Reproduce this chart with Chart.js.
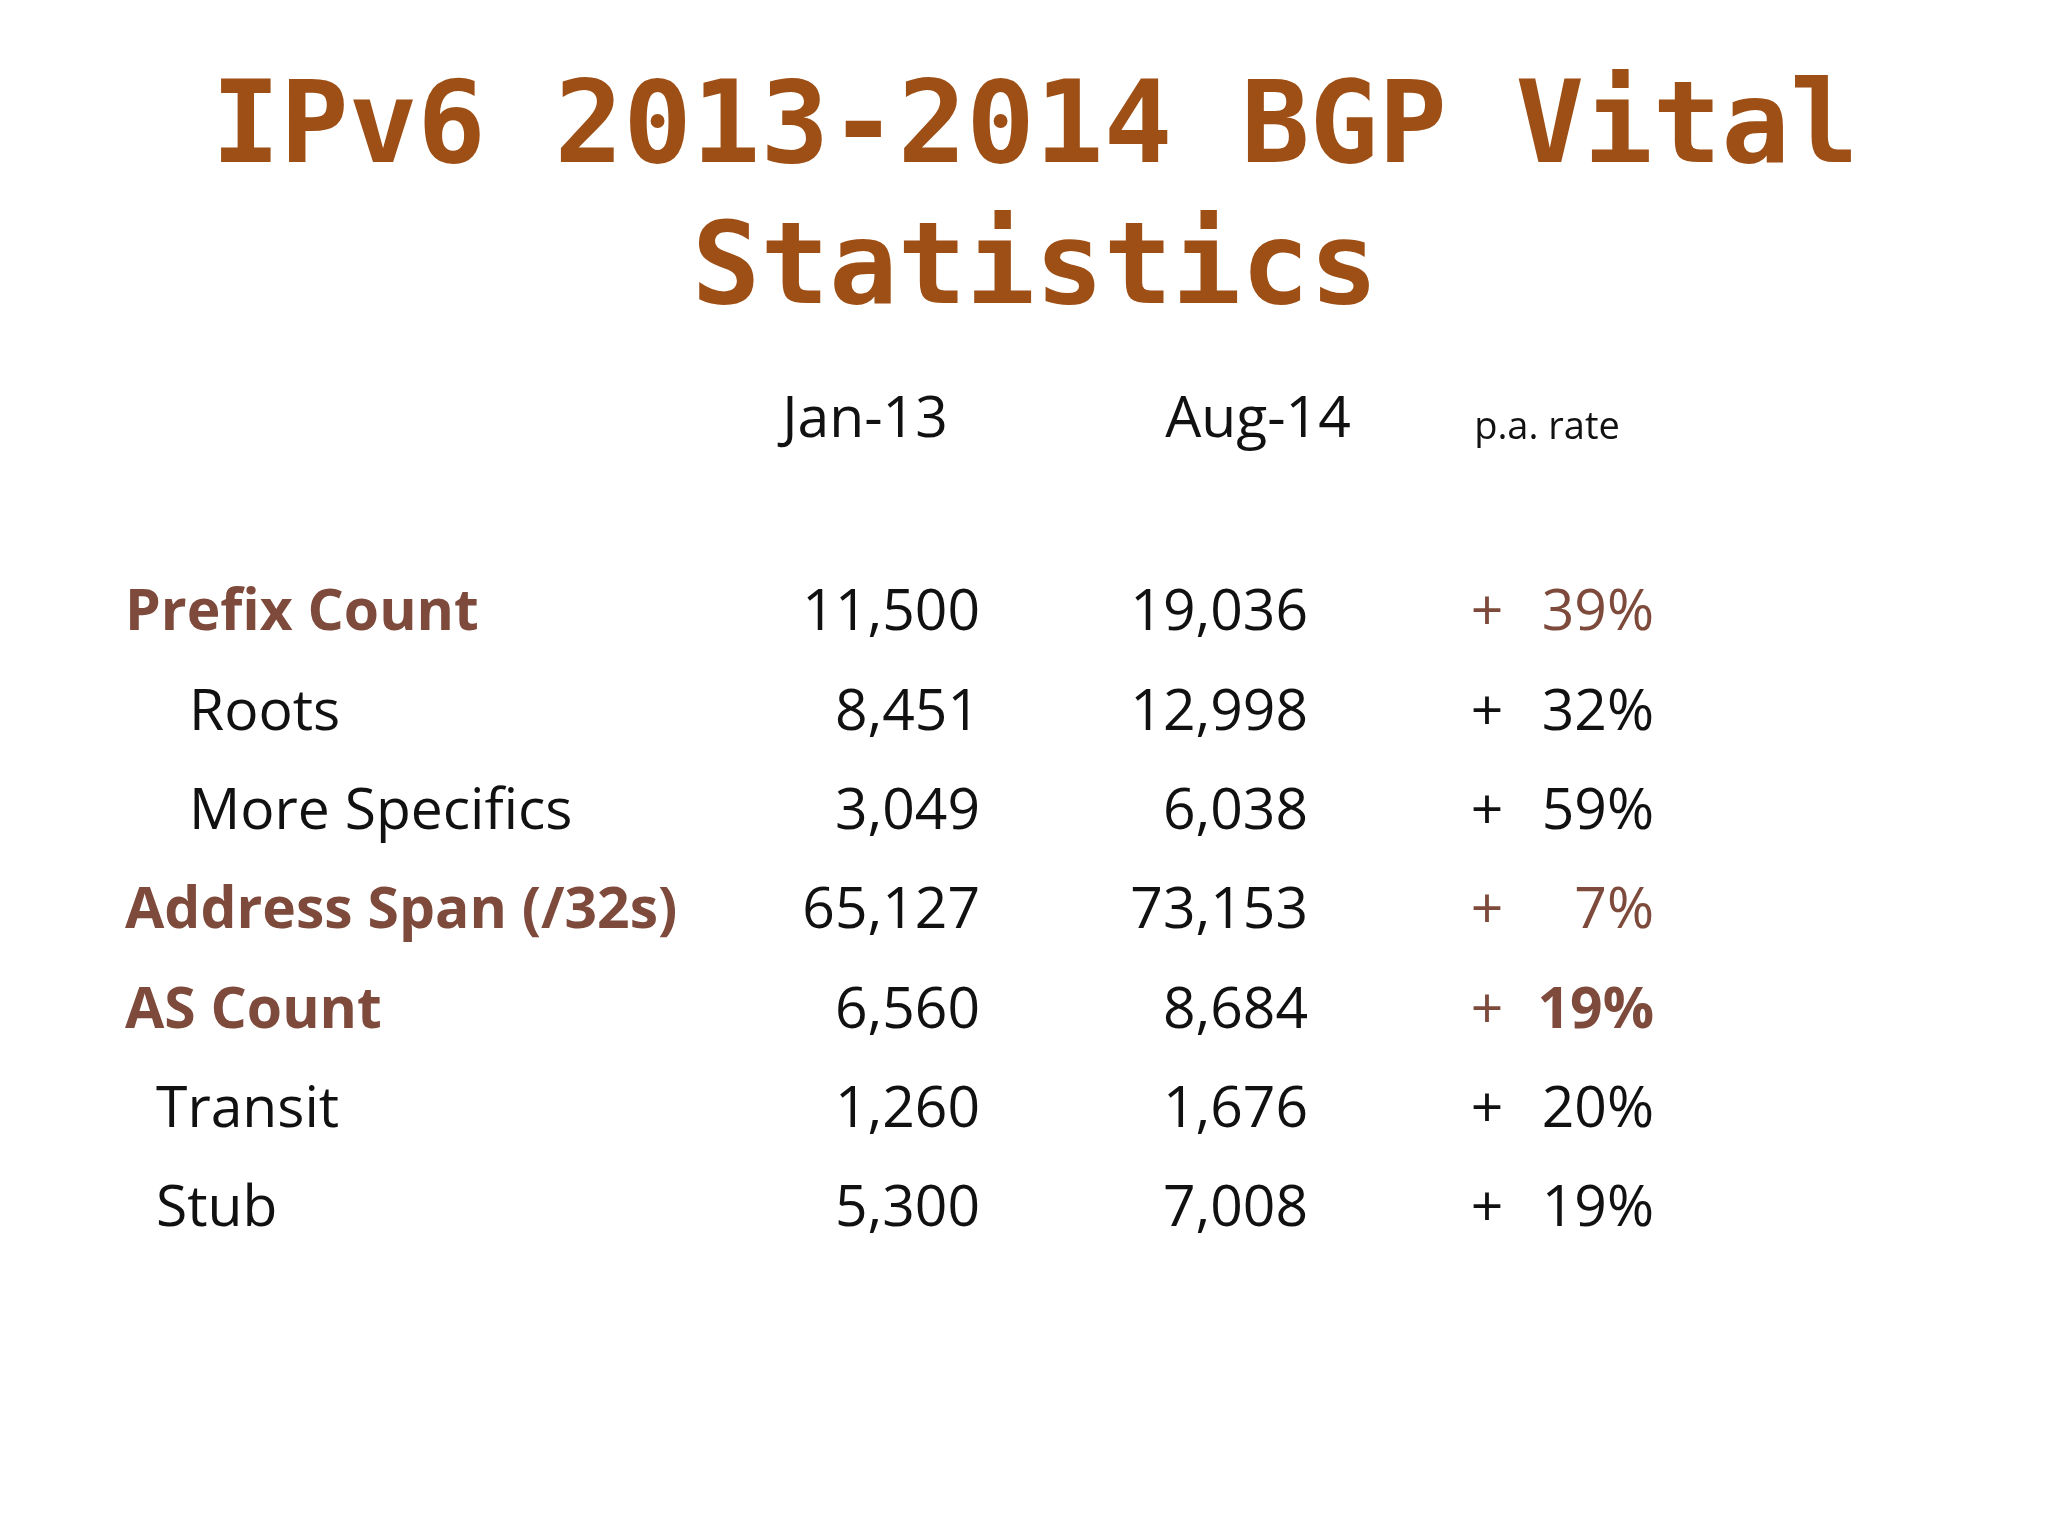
<!DOCTYPE html>
<html><head><meta charset="utf-8">
<script src="https://cdn.jsdelivr.net/npm/chart.js@4/dist/chart.umd.min.js"></script>
<style>html,body{margin:0;padding:0;background:#fff}#w{width:2048px;height:1536px}</style>
</head><body><div id="w"><canvas id="c"></canvas></div>
<script>
const titleLines = ["IPv6 2013-2014 BGP Vital", "Statistics"];
const columnHeaders = ["Jan-13", "Aug-14", "p.a. rate"];
const categories = ["Prefix Count", "Roots", "More Specifics", "Address Span (/32s)", "AS Count", "Transit", "Stub"];
const jan13 = ["11,500", "8,451", "3,049", "65,127", "6,560", "1,260", "5,300"];
const aug14 = ["19,036", "12,998", "6,038", "73,153", "8,684", "1,676", "7,008"];
const paRate = ["39%", "32%", "59%", "7%", "19%", "20%", "19%"];
const isHeading = [true, false, false, true, true, false, false];
const indent = [0, 2, 2, 0, 0, 1, 1];

const BROWN = '#7d4a3c', TITLE = '#9e4f16', BLACK = '#111';
const F = '57px "Open Sans"';
const tablePlugin = {
  id: 'table',
  afterDraw(chart) {
    const ctx = chart.ctx, ys = chart.scales.y;
    ctx.save();
    ctx.textBaseline = 'middle';
    ctx.fillStyle = TITLE;
    ctx.textAlign = 'center';
    ctx.font = 'bold 114px "DejaVu Sans Mono"';
    ctx.fillText(titleLines[0], 1035, 132);
    ctx.fillText(titleLines[1], 1035, 273);
    ctx.fillStyle = BLACK;
    ctx.font = F;
    ctx.fillText(columnHeaders[0], 865, 421);
    ctx.fillText(columnHeaders[1], 1258, 421);
    ctx.font = '38px "Open Sans"';
    ctx.fillText(columnHeaders[2], 1547, 428);
    categories.forEach((c, i) => {
      const y = ys.getPixelForTick(i);
      const h = isHeading[i];
      ctx.fillStyle = h ? BROWN : BLACK;
      ctx.font = 'bold '.repeat(h ? 1 : 0) + F;
      ctx.textAlign = 'left';
      ctx.fillText(c, [125, 156, 189][indent[i]], y);
      ctx.font = F;
      ctx.fillStyle = BLACK;
      ctx.textAlign = 'right';
      ctx.fillText(jan13[i], 980, y);
      ctx.fillText(aug14[i], 1308, y);
      ctx.fillStyle = h ? BROWN : BLACK;
      ctx.font = (i === 4 ? 'bold ' : '') + F;
      ctx.fillText(paRate[i], 1654, y);
      ctx.font = F;
      ctx.textAlign = 'center';
      ctx.fillText('+', 1487, y);
    });
    ctx.restore();
  }
};

new Chart(document.getElementById('c'), {
  type: 'scatter',
  data: { labels: categories, datasets: [{ data: categories.map((c, i) => ({ x: 0, y: c })), pointRadius: 0 }] },
  options: {
    responsive: true, maintainAspectRatio: false, animation: false,
    layout: { padding: { top: 614, bottom: 326, left: 0, right: 0 } },
    plugins: { legend: { display: false }, tooltip: { enabled: false } },
    scales: {
      x: { type: 'linear', min: 0, max: 2048, display: false },
      y: { type: 'category', labels: categories, offset: false, display: false }
    }
  },
  plugins: [tablePlugin]
});
</script></body></html>
